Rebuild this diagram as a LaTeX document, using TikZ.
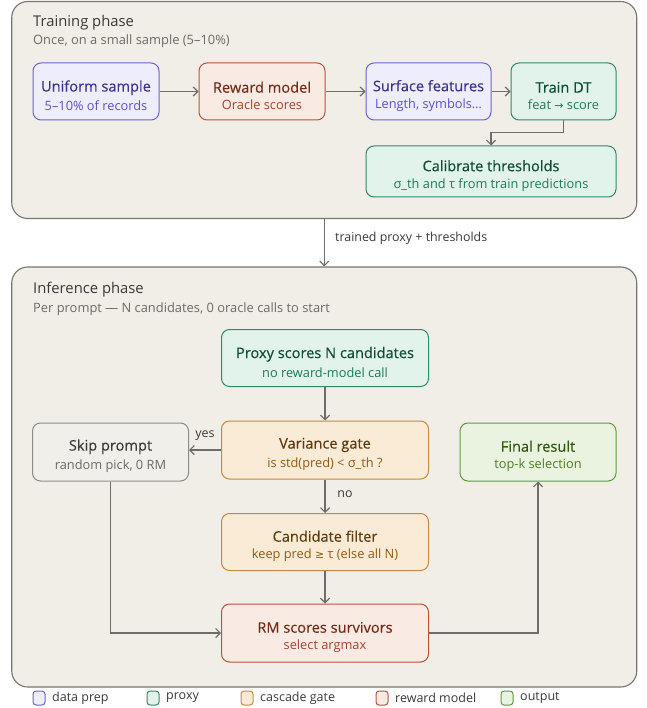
\documentclass[tikz,border=0pt]{standalone}
\usepackage{fontspec}
\setmainfont{Open Sans}
\newfontfamily\symf{DejaVu Sans}
\newfontfamily\medf[FakeBold=0.3]{Open Sans}
\usetikzlibrary{arrows.meta}
\definecolor{frameFill}{HTML}{F1EEE8}
\definecolor{frameDraw}{HTML}{77756F}
\definecolor{frameT}{HTML}{3A3937}
\definecolor{frameS}{HTML}{6E6C68}
\definecolor{dpFill}{HTML}{EEEDFC}
\definecolor{dpDraw}{HTML}{6A63D8}
\definecolor{dpT}{HTML}{3B3393}
\definecolor{dpS}{HTML}{5A52C8}
\definecolor{pxFill}{HTML}{E1F3EB}
\definecolor{pxDraw}{HTML}{2F8A68}
\definecolor{pxT}{HTML}{0E4D38}
\definecolor{pxS}{HTML}{1F7A58}
\definecolor{cgFill}{HTML}{FAEBD6}
\definecolor{cgDraw}{HTML}{C38A43}
\definecolor{cgT}{HTML}{633A0C}
\definecolor{cgS}{HTML}{935815}
\definecolor{rmFill}{HTML}{FAEAE4}
\definecolor{rmDraw}{HTML}{B4563B}
\definecolor{rmT}{HTML}{752A15}
\definecolor{rmS}{HTML}{A6432A}
\definecolor{opFill}{HTML}{EAF3DF}
\definecolor{opDraw}{HTML}{5F9A3D}
\definecolor{opT}{HTML}{2D5A10}
\definecolor{opS}{HTML}{4B7F25}
\definecolor{ntFill}{HTML}{F1EFEA}
\definecolor{ntDraw}{HTML}{8E8C87}
\definecolor{ntT}{HTML}{3C3B38}
\definecolor{ntS}{HTML}{6C6A66}
\definecolor{arrC}{HTML}{6E6D69}
\newcommand\bxT[1]{{\medf\fontsize{14.6}{18}\selectfont\rule{0pt}{19.5pt}#1}}
\newcommand\bxS[1]{{\fontsize{12.8}{15}\selectfont\color{\subc}#1}}
\def\subc{black}
\tikzset{
  frame/.style={draw=frameDraw, fill=frameFill, line width=1.1pt, rounded corners=16pt, inner sep=0pt},
  box/.style={rectangle, rounded corners=8pt, line width=1pt, inner sep=0pt, align=center, minimum height=57pt},
  dp/.style={box, fill=dpFill, draw=dpDraw, text=dpT, execute at begin node={\def\subc{dpS}}},
  px/.style={box, fill=pxFill, draw=pxDraw, text=pxT, execute at begin node={\def\subc{pxS}}},
  cg/.style={box, fill=cgFill, draw=cgDraw, text=cgT, execute at begin node={\def\subc{cgS}}},
  rmx/.style={box, fill=rmFill, draw=rmDraw, text=rmT, execute at begin node={\def\subc{rmS}}},
  op/.style={box, fill=opFill, draw=opDraw, text=opT, execute at begin node={\def\subc{opS}}},
  nt/.style={box, fill=ntFill, draw=ntDraw, text=ntT, execute at begin node={\def\subc{ntS}}},
  arr/.style={draw=arrC, line width=1.2pt, -{Straight Barb[length=4.5pt,width=9pt,line width=1.2pt]}},
  ftitle/.style={anchor=base west, inner sep=0pt, text=frameT, font=\fontsize{14.8}{17}\selectfont},
  fsub/.style={anchor=base west, inner sep=0pt, text=frameS, font=\fontsize{12.9}{15}\selectfont},
  lbl/.style={inner sep=0pt, text=frameT, font=\fontsize{12.4}{15}\selectfont},
  legbox/.style={rectangle, rounded corners=3pt, line width=1pt, minimum width=12pt, minimum height=14pt, inner sep=0pt},
  legtxt/.style={anchor=west, inner sep=0pt, text=frameT, font=\fontsize{12.5}{15}\selectfont},
}
\begin{document}
\begin{tikzpicture}[x=1pt,y=-1pt]
\useasboundingbox (0,0) rectangle (646,708);
% frames
\node[frame, minimum width=625pt, minimum height=217pt] (trainf) at (324.25,110) {};
\node[frame, minimum width=625pt, minimum height=420pt] (inff) at (324.25,477) {};
\node[ftitle] (tt) at (33,26.5) {Training phase};
\node[fsub] (ts) at (33,45) {Once, on a small sample (5–10\%)};
\node[ftitle] (it) at (33,293.5) {Inference phase};
\node[fsub] (is) at (33,312.5) {Per prompt — N candidates, 0 oracle calls to start};
% training nodes
\node[dp, minimum width=126pt] (u) at (96,91.5) {\bxT{Uniform sample}\\[5pt]\bxS{5–10\% of records}};
\node[rmx, minimum width=126pt] (r) at (262,91.5) {\bxT{Reward model}\\[5pt]\bxS{Oracle scores}};
\node[dp, minimum width=125pt] (s) at (428.5,91.5) {\bxT{Surface features}\\[5pt]\bxS{Length, symbols…}};
\node[px, minimum width=105pt] (t) at (563.5,91.5) {\bxT{Train DT}\\[5pt]\bxS{feat {\symf\fontsize{11}{12}\selectfont →} score}};
\node[px, minimum width=250pt, minimum height=51pt] (c) at (491,171.5) {\bxT{Calibrate thresholds}\\[5pt]\bxS{σ\_th and τ from train predictions}};
\draw[arr] (u) -- (r);
\draw[arr] (r) -- (s);
\draw[arr] (s) -- (t);
\draw[arr] (t.south) -- ++(0,12) -| (c.north);
% between phases
\draw[arr] (trainf.south) -- (inff.north);
\node[lbl, anchor=west] (tl) at (335,238) {trained proxy + thresholds};
% inference nodes
\node[px, minimum width=207pt] (p) at (325,358) {\bxT{Proxy scores N candidates}\\[5pt]\bxS{no reward-model call}};
\node[cg, minimum width=207pt, minimum height=58pt] (v) at (325,450) {\bxT{Variance gate}\\[5pt]\bxS{is std(pred) < σ\_th ?}};
\node[nt, minimum width=156pt, minimum height=58pt] (k) at (110.5,452) {\bxT{Skip prompt}\\[5pt]\bxS{random pick, 0 RM}};
\node[op, minimum width=156pt, minimum height=58pt] (f) at (538,452) {\bxT{Final result}\\[5pt]\bxS{top-k selection}};
\node[cg, minimum width=207pt] (cf) at (325,542) {\bxT{Candidate filter}\\[5pt]\bxS{keep pred {\symf\fontsize{11}{12}\selectfont ≥} τ (else all N)}};
\node[rmx, minimum width=207pt, minimum height=58pt] (rm) at (325,633) {\bxT{RM scores survivors}\\[5pt]\bxS{select argmax}};
\draw[arr] (p) -- (v);
\draw[arr] (v.west) -- (v.west -| k.east);
\node[lbl] (yes) at (205,436) {yes};
\draw[arr] (v) -- (cf);
\node[lbl] (no) at (345,494) {no};
\draw[arr] (cf) -- (rm);
\draw[arr] (k.south) |- (rm.west);
\draw[arr] (rm.east) -| (f.south);
% legend
\node[legbox, fill=dpFill, draw=dpDraw] (l1) at (39,698) {};
\node[legtxt] (l1t) at (52,698) {data prep};
\node[legbox, fill=pxFill, draw=pxDraw] (l2) at (153,698) {};
\node[legtxt] (l2t) at (166,698) {proxy};
\node[legbox, fill=cgFill, draw=cgDraw] (l3) at (247,698) {};
\node[legtxt] (l3t) at (260,698) {cascade gate};
\node[legbox, fill=rmFill, draw=rmDraw] (l4) at (382,698) {};
\node[legtxt] (l4t) at (395,698) {reward model};
\node[legbox, fill=opFill, draw=opDraw] (l5) at (507,698) {};
\node[legtxt] (l5t) at (520,698) {output};
\end{tikzpicture}
\end{document}
